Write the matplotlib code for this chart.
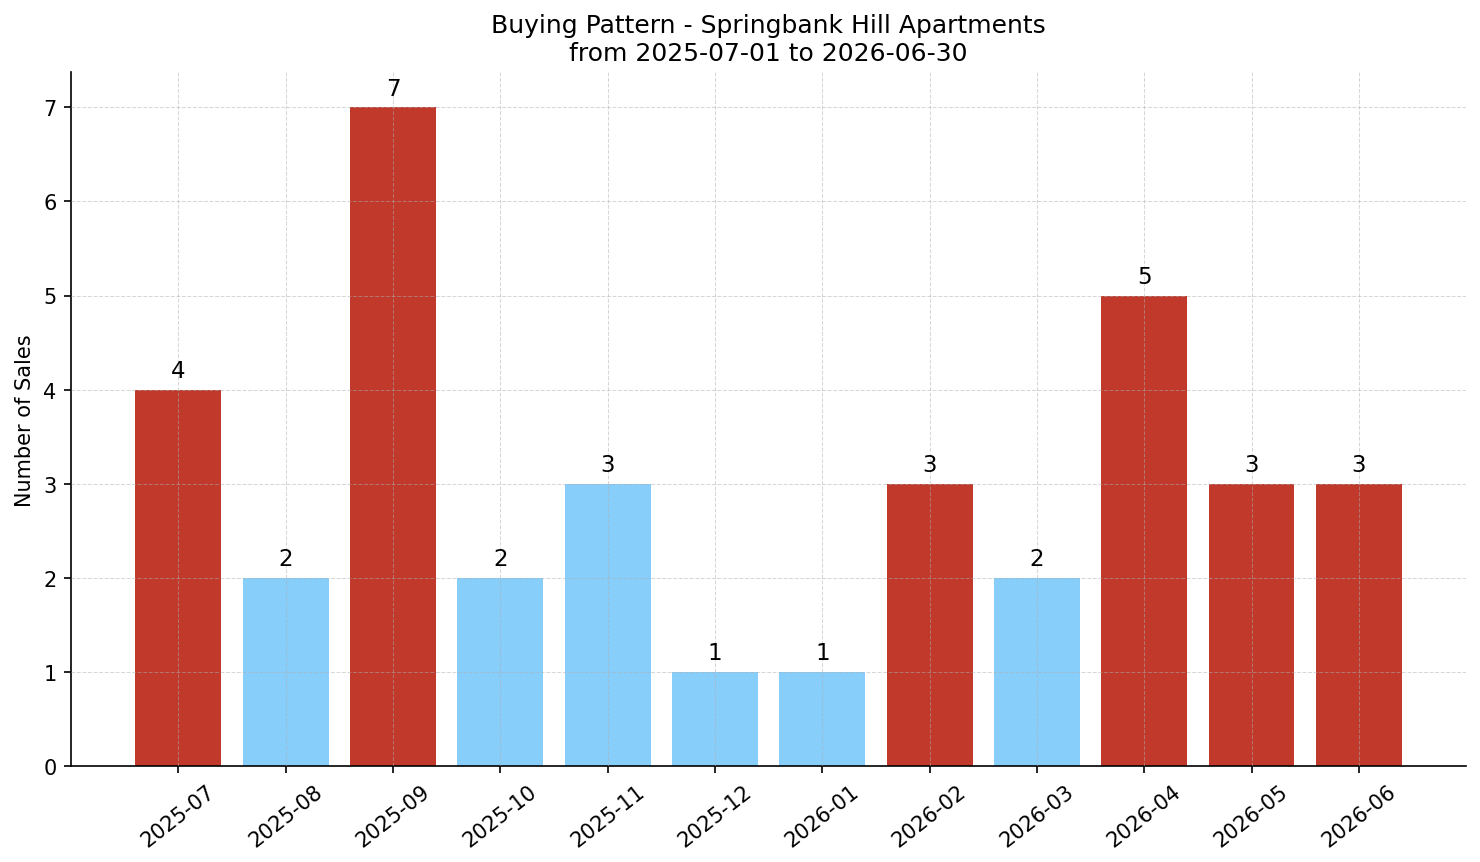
import matplotlib
matplotlib.use("Agg")
import matplotlib.pyplot as plt

# monthly sales data
months = ["2025-07", "2025-08", "2025-09", "2025-10", "2025-11", "2025-12",
          "2026-01", "2026-02", "2026-03", "2026-04", "2026-05", "2026-06"]
sales = [4, 2, 7, 2, 3, 1, 1, 3, 2, 5, 3, 3]
highlight = [True, False, True, False, False, False,
             False, True, False, True, True, True]

RED = "#c0392b"
BLUE = "#87cefa"

# saved at dpi 150 -> 1481x863
fig = plt.figure(figsize=(9.873, 5.753), dpi=150)
ax = fig.add_axes([0.048, 0.111, 0.942, 0.804])

x = list(range(len(months)))
colors = [RED if h else BLUE for h in highlight]
ax.bar(x, sales, width=0.8, color=colors)

# value labels above bars
for xi, v in zip(x, sales):
    ax.text(xi, v + 0.08, str(v), ha="center", va="bottom", fontsize=11)

ax.set_xticks(x)
ax.set_xticklabels(months, rotation=38, ha="center", fontsize=10)
ax.tick_params(axis="y", labelsize=10)
ax.set_xlim(-1, 12)
ax.set_ylim(0, 7.37)
ax.set_ylabel("Number of Sales", fontsize=10)
ax.set_title("Buying Pattern - Springbank Hill Apartments\nfrom 2025-07-01 to 2026-06-30",
             fontsize=12)

ax.grid(True, linestyle="--", linewidth=0.5, alpha=0.5)
ax.set_axisbelow(False)
ax.spines["top"].set_visible(False)
ax.spines["right"].set_visible(False)

fig.savefig("out.png", dpi=150)
